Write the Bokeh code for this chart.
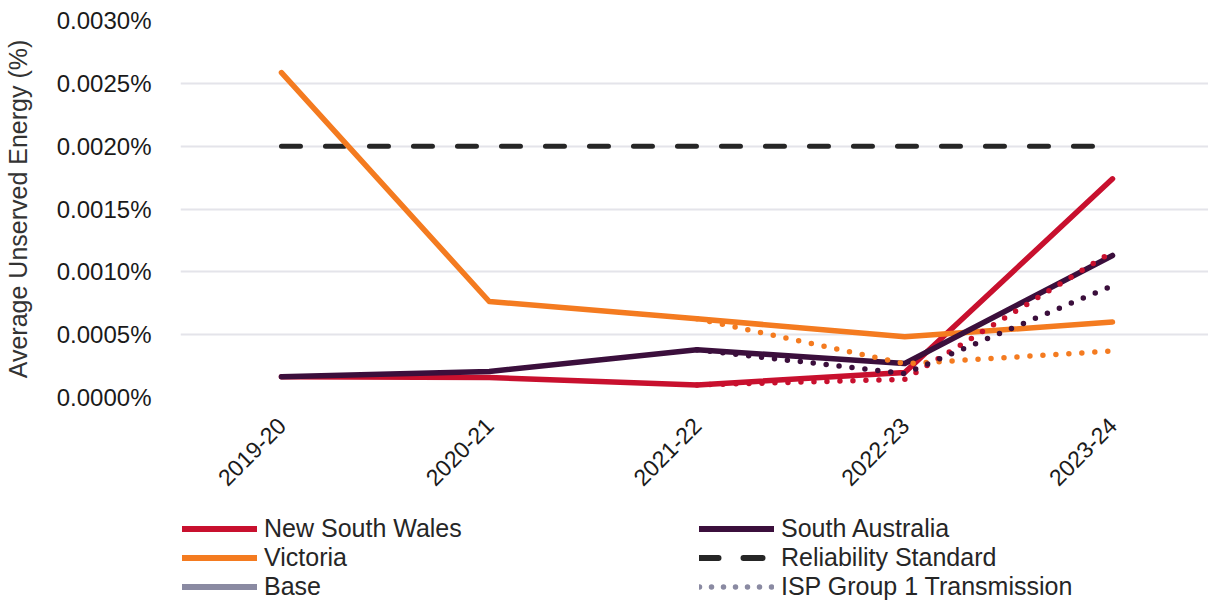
from math import pi, nan

from bokeh.embed import file_html
from bokeh.layouts import column
from bokeh.models import FixedTicker, Legend, LegendItem, PrintfTickFormatter, Range1d
from bokeh.plotting import figure
from bokeh.resources import INLINE

# Financial years on the horizontal axis
years = ["2019-20", "2020-21", "2021-22", "2022-23", "2023-24"]
year_idx = list(range(len(years)))

# Base scenario: average unserved energy (% of annual energy)
nsw_base = [0.000165, 0.000159, 0.000100, 0.000199, 0.001740]
vic_base = [0.002585, 0.000764, 0.000626, 0.000483, 0.000600]
sa_base = [0.000165, 0.000207, 0.000380, 0.000271, 0.001130]

# ISP Group 1 Transmission scenario (departs from the base after 2021-22)
isp_years = ["2021-22", "2022-23", "2023-24"]
isp_idx = [years.index(y) for y in isp_years]
nsw_isp = [0.000100, 0.000145, 0.001160]
vic_isp = [0.000626, 0.000268, 0.000370]
sa_isp = [0.000380, 0.000190, 0.000890]

# Reliability standard
reliability_standard = [0.002, 0.002, 0.002, 0.002, 0.002]

y_ticks = [0.0, 0.0005, 0.0010, 0.0015, 0.0020, 0.0025, 0.0030]

RED = "#C8102E"
ORANGE = "#F47B20"
PURPLE = "#3B0F3C"
BLACK = "#262626"
GREY = "#8A8AA2"
FONT = "Liberation Sans"

# ---- main chart -------------------------------------------------------------
p = figure(
    width=1208,
    height=505,
    output_backend="svg",
    toolbar_location=None,
    x_range=Range1d(-0.486, 4.462),
    y_range=Range1d(0, 0.003),
    min_border_left=180,
    min_border_right=0,
    min_border_top=20,
    min_border_bottom=108,
)
p.outline_line_color = None
p.background_fill_color = "white"
p.border_fill_color = "white"

p.xgrid.grid_line_color = None
p.ygrid.grid_line_color = "#E4E4EA"
p.ygrid.grid_line_width = 2
p.ygrid.ticker = FixedTicker(ticks=y_ticks)

yax = p.yaxis[0]
yax.ticker = FixedTicker(ticks=y_ticks)
yax.formatter = PrintfTickFormatter(format="%.4f%%")
yax.axis_line_color = None
yax.major_tick_line_color = None
yax.minor_tick_line_color = None
yax.major_label_standoff = 23
yax.major_label_text_font = FONT
yax.major_label_text_font_size = "24px"
yax.major_label_text_color = "#1A1A1A"
yax.axis_label = "Average Unserved Energy (%)"
yax.axis_label_standoff = 22
yax.axis_label_text_font = FONT
yax.axis_label_text_font_size = "25px"
yax.axis_label_text_font_style = "normal"
yax.axis_label_text_color = "#333333"

p.xaxis.ticker = FixedTicker(ticks=year_idx)
p.xaxis.major_label_overrides = {i: y for i, y in zip(year_idx, years)}
p.xaxis.major_label_orientation = pi / 4
p.xaxis.axis_line_color = None
p.xaxis.major_tick_line_color = None
p.xaxis.minor_tick_line_color = None
p.xaxis.major_label_standoff = 18
p.xaxis.major_label_text_font = FONT
p.xaxis.major_label_text_font_size = "23px"
p.xaxis.major_label_text_color = "#1A1A1A"

line_kw = dict(line_width=5.5, line_cap="round", line_join="round")
dot_kw = dict(line_width=5.5, line_cap="round", line_join="round", line_dash="0 13")
rel_kw = dict(line_width=5, line_cap="round", line_dash="19 25")

p.line(year_idx, reliability_standard, line_color=BLACK, **rel_kw)
p.line(year_idx, nsw_base, line_color=RED, **line_kw)
p.line(year_idx, vic_base, line_color=ORANGE, **line_kw)
p.line(year_idx, sa_base, line_color=PURPLE, **line_kw)

p.line(isp_idx, nsw_isp, line_color=RED, **dot_kw)
p.line(isp_idx, vic_isp, line_color=ORANGE, **dot_kw)
p.line(isp_idx, sa_isp, line_color=PURPLE, **dot_kw)

# ---- legend strip -----------------------------------------------------------
lg = figure(
    width=1208,
    height=100,
    output_backend="svg",
    toolbar_location=None,
    x_range=Range1d(0, 1),
    y_range=Range1d(0, 1),
    x_axis_type=None,
    y_axis_type=None,
    min_border=0,
)
lg.outline_line_color = None
lg.grid.visible = False

# legend keys carry styles only, no visible data
no_x = [0, 1]
no_y = [nan, nan]
key_kw = dict(line_width=6, line_cap="round")
k_nsw = lg.line(no_x, no_y, line_color=RED, **key_kw)
k_vic = lg.line(no_x, no_y, line_color=ORANGE, **key_kw)
k_base = lg.line(no_x, no_y, line_color=GREY, **key_kw)
k_sa = lg.line(no_x, no_y, line_color=PURPLE, **key_kw)
k_rel = lg.line(no_x, no_y, line_color=BLACK, line_width=6, line_cap="round", line_dash="19 25")
k_isp = lg.line(no_x, no_y, line_color=GREY, line_width=5.5, line_cap="round", line_dash="0 12")

legend = Legend(
    items=[
        LegendItem(label="New South Wales", renderers=[k_nsw]),
        LegendItem(label="Victoria", renderers=[k_vic]),
        LegendItem(label="Base", renderers=[k_base]),
        LegendItem(label="South Australia", renderers=[k_sa]),
        LegendItem(label="Reliability Standard", renderers=[k_rel]),
        LegendItem(label="ISP Group 1 Transmission", renderers=[k_isp]),
    ],
    orientation="vertical",
    ncols=2,
    location=(2, 4),
    margin=0,
    padding=0,
    spacing=-3,
    glyph_width=75,
    glyph_height=27,
    label_height=27,
    label_width=435,
    label_standoff=7,
    label_text_font=FONT,
    label_text_font_size="25px",
    label_text_color="#262626",
    border_line_color=None,
    background_fill_alpha=0,
)
lg.add_layout(legend)

page = column(p, lg, spacing=0)
open("out.html", "w").write(file_html(page, INLINE))
